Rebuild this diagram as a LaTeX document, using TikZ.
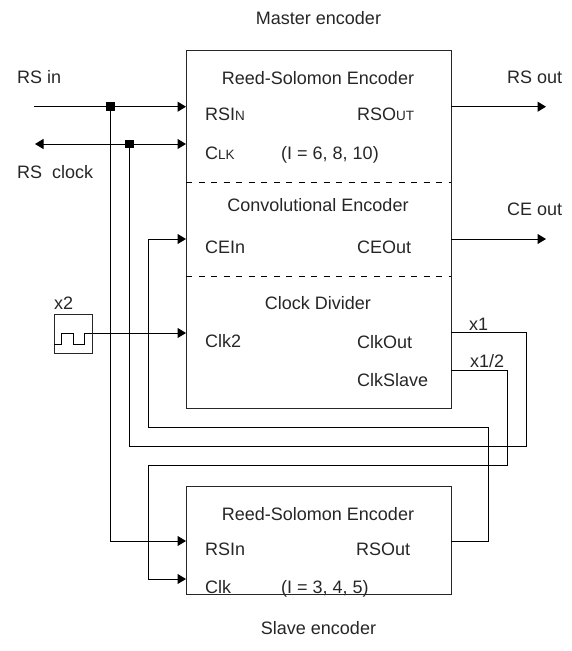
\documentclass[tikz,border=0pt]{standalone}
\usepackage{fontspec}
\setmainfont{Liberation Sans}
\usetikzlibrary{arrows.meta}
\tikzset{
  x=1pt,y=-1pt,
  wire/.style={line width=1pt,line join=miter,draw=black},
  sig/.style={wire,-{Triangle[length=8.5pt,width=10pt]}},
  blockbox/.style={draw=black!85,line width=1.2pt,fill=none,inner sep=0pt,anchor=north west},
  lbl/.style={anchor=base west,inner sep=0pt,text=black!85},
  ctr/.style={anchor=base,inner sep=0pt,text=black!85},
  dot/.style={fill=black,inner sep=0pt,minimum size=8.5pt},
  sep/.style={draw=black,line width=0.9pt,dash pattern=on 6pt off 6.5pt},
}
\newcommand{\smc}[1]{{\fontsize{13.5}{14}\selectfont #1}}
\begin{document}
\begin{tikzpicture}
\useasboundingbox (0,0) rectangle (572,651);
\fontsize{18}{20}\selectfont
\node[blockbox,minimum width=265pt,minimum height=358pt] (master) at (186,50) {};
\node[blockbox,minimum width=265pt,minimum height=108pt] (slave) at (186,486) {};
\node[blockbox,line width=1pt,minimum width=38.5pt,minimum height=38.5pt] (osc) at (53.5,314) {};
% titles
\node[ctr] (tmaster) at (318.5,24) {Master encoder};
\node[ctr] (tslave) at (318.5,634) {Slave encoder};
\node[ctr] (trs) at (318,84) {Reed-Solomon Encoder};
\node[ctr] (tce) at (318,211) {Convolutional Encoder};
\node[ctr] (tcd) at (318,309) {Clock Divider};
\node[ctr] (trs2) at (318,520) {Reed-Solomon Encoder};
% ports
\node[lbl] (prsin) at (205,120) {RSI\smc{N}};
\node[lbl] (pclk) at (205,159) {C\smc{LK}};
\node[lbl] (pi) at (281,159) {(I = 6, 8, 10)};
\node[lbl] (prsout) at (357,120) {RSO\smc{UT}};
\node[lbl] (pcein) at (205,253) {CEIn};
\node[lbl] (pceout) at (357,253) {CEOut};
\node[lbl] (pclk2) at (205,347) {Clk2};
\node[lbl] (pclkout) at (357,348) {ClkOut};
\node[lbl] (pclkslave) at (357,386) {ClkSlave};
\node[lbl] (srsin) at (205,555) {RSIn};
\node[lbl] (sclk) at (205,593) {Clk};
\node[lbl] (si) at (281,593) {(I = 3, 4, 5)};
\node[lbl] (srsout) at (356,555) {RSOut};
% external labels
\node[lbl] (lrsin) at (17,83) {RS in};
\node[lbl] (lrsclk) at (17,178) {RS\ \ clock};
\node[lbl] (lrsout) at (507,83) {RS out};
\node[lbl] (lceout) at (507,215) {CE out};
\node[lbl] (lx2) at (54,309) {x2};
\node[lbl] (lx1) at (469,330) {x1};
\node[lbl] (lx12) at (470,367) {x1/2};
% coordinates
\coordinate (rsinstart) at (34,106.7);
\coordinate (clkstart) at (35,144);
\coordinate (rsoutend) at (546,106.7);
\coordinate (ceoutend) at (546,239);
\coordinate (a1) at (186,106.7);
\coordinate (a2) at (186,144);
\coordinate (a3) at (186,239);
\coordinate (a4) at (186,333);
\coordinate (b1) at (186,541);
\coordinate (b2) at (186,579);
\coordinate (r1) at (451,106.7);
\coordinate (r2) at (451,239);
\coordinate (r3) at (451,332.7);
\coordinate (r4) at (451,370.7);
\coordinate (r5) at (451,541);
\node[dot] (j1) at (110.5,106.7) {};
\node[dot] (j2) at (129.5,144) {};
% dashed separators
\draw[sep] (186,182) coordinate (d1) -- (451,182) coordinate (d2);
\draw[sep] (186,276.7) coordinate (d3) -- (451,276.7) coordinate (d4);
% connectors
\draw[sig] (rsinstart) -- (a1);
\draw[sig,{Triangle[length=8.5pt,width=10pt]}-{Triangle[length=8.5pt,width=10pt]}] (clkstart) -- (a2);
\draw[sig] (r1) -- (rsoutend);
\draw[sig] (r2) -- (ceoutend);
\draw[sig] (j1.center) -- (110.5,541) -- (b1);
\draw[wire] (j2.center) -- (129.5,446.7) -- (526.7,446.7) -- (526.7,332.7) -- (r3);
\draw[sig] (r5) -- (488.7,541) -- (488.7,427.7) -- (148,427.7) -- (148,239) -- (a3);
\draw[sig] (r4) -- (507.7,370.7) -- (507.7,465.5) -- (148,465.5) -- (148,579) -- (b2);
\draw[wire] (54,344) -- (61.5,344) -- (61.5,333) -- (73,333) -- (73,344) -- (84.5,344) -- (84.5,333) -- (92,333);
\draw[sig] (osc.east |- a4) -- (a4);
\end{tikzpicture}
\end{document}
